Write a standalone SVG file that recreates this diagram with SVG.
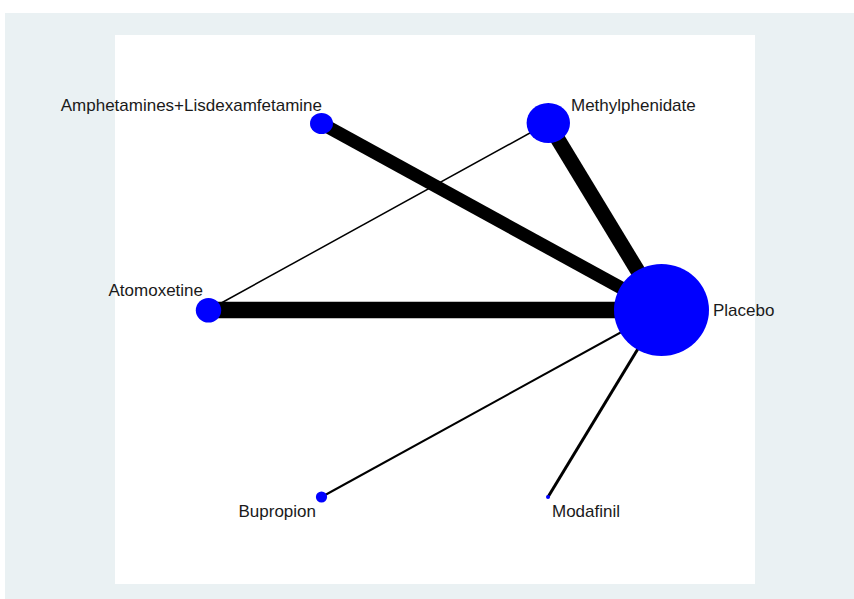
<svg xmlns="http://www.w3.org/2000/svg" width="854" height="599" viewBox="0 0 854 599">
<style>
.lbl{font-family:"Liberation Sans",Arial,sans-serif;font-size:17px;fill:#1a1a1a}
.node{fill:#0000ff}
.edge{stroke:#000;fill:none}
</style>
<rect x="0" y="0" width="854" height="599" fill="#ffffff"/>
<rect x="5" y="13" width="849" height="586" fill="#eaf1f3"/>
<rect x="115" y="35" width="640" height="549" fill="#ffffff"/>
<g id="connectors">
<line class="edge" x1="321.5" y1="123.5" x2="661.5" y2="310" stroke-width="13"/>
<line class="edge" x1="548" y1="123" x2="661.5" y2="310" stroke-width="15"/>
<line class="edge" x1="208.5" y1="310" x2="661.5" y2="310" stroke-width="16.5"/>
<line class="edge" x1="208.5" y1="310" x2="548" y2="123" stroke-width="1.5"/>
<line class="edge" x1="321.5" y1="497" x2="661.5" y2="310" stroke-width="2"/>
<line class="edge" x1="548" y1="497" x2="661.5" y2="310" stroke-width="3"/>
</g>
<g id="node-amphetamines">
<ellipse class="node" cx="321.5" cy="123.5" rx="11.5" ry="10.5"/>
<text class="lbl" x="322" y="111" text-anchor="end">Amphetamines+Lisdexamfetamine</text>
</g>
<g id="node-methylphenidate">
<ellipse class="node" cx="548.3" cy="123" rx="21.7" ry="20"/>
<text class="lbl" x="571" y="111">Methylphenidate</text>
</g>
<g id="node-atomoxetine">
<ellipse class="node" cx="208.5" cy="310.3" rx="12.7" ry="12.3"/>
<text class="lbl" x="203" y="296" text-anchor="end">Atomoxetine</text>
</g>
<g id="node-placebo">
<ellipse class="node" cx="661.5" cy="310" rx="47.5" ry="46"/>
<text class="lbl" x="713" y="316">Placebo</text>
</g>
<g id="node-bupropion">
<circle class="node" cx="321.5" cy="497" r="5.6"/>
<text class="lbl" x="316" y="517" text-anchor="end">Bupropion</text>
</g>
<g id="node-modafinil">
<circle class="node" cx="548" cy="497" r="2"/>
<text class="lbl" x="552" y="517">Modafinil</text>
</g>
</svg>
